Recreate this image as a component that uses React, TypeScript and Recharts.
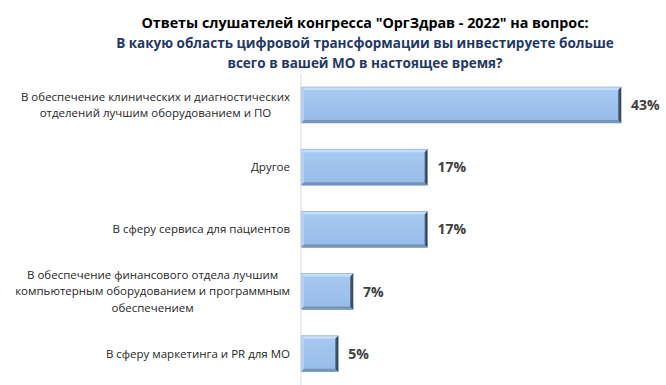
import { BarChart, Bar, XAxis, YAxis, LabelList } from "recharts";

const categories = [
    "В обеспечение клинических и диагностических\nотделений лучшим оборудованием и ПО",
    "Другое",
    "В сферу сервиса для пациентов",
    "В обеспечение финансового отдела лучшим\nкомпьютерным оборудованием и программным\nобеспечением",
    "В сферу маркетинга и PR для МО",
];
const shares = [43, 17, 17, 7, 5];

const titleLine = 'Ответы слушателей конгресса "ОргЗдрав - 2022" на вопрос:';
const questionLines = [
    "В какую область цифровой трансформации вы инвестируете больше",
    "всего в вашей МО в настоящее время?",
];

const data = categories.map((name, i) => ({ name, value: shares[i] }));

const FONT = "'Open Sans', 'DejaVu Sans', sans-serif";

function CategoryTick({ x, y, payload }: any) {
    const lines = String(payload.value).split("\n");
    const lh = 16.5;
    const h = lines.length * lh;
    return (
        <foreignObject x={0} y={y - h / 2} width={x - 3} height={h}>
            <div style={{ display: "flex", justifyContent: "flex-end", height: "100%" }}>
                <div
                    style={{
                        textAlign: "center",
                        fontFamily: FONT,
                        fontSize: 11.5,
                        lineHeight: `${lh}px`,
                        color: "#262626",
                        whiteSpace: "nowrap",
                    }}
                >
                    {lines.map((l, i) => (
                        <div key={i}>{l}</div>
                    ))}
                </div>
            </div>
        </foreignObject>
    );
}

function BevelBar({ x, y, width, height }: any) {
    if (!width || width <= 0) return null;
    const b = 3;
    return (
        <g>
            <rect x={x} y={y} width={width} height={height} fill="url(#barFill)" />
            {/* top bevel */}
            <polygon points={`${x},${y} ${x + width},${y} ${x + width - b},${y + b} ${x + b},${y + b}`} fill="#c6ddf6" />
            {/* left bevel */}
            <polygon points={`${x},${y} ${x + b},${y + b} ${x + b},${y + height - b} ${x},${y + height}`} fill="#b6d1f1" />
            {/* bottom bevel */}
            <polygon
                points={`${x},${y + height} ${x + b},${y + height - b} ${x + width - b},${y + height - b} ${x + width},${y + height}`}
                fill="#7393b8"
            />
            {/* right shadow edge */}
            <polygon
                points={`${x + width},${y} ${x + width - b},${y + b} ${x + width - b},${y + height - b} ${x + width},${y + height}`}
                fill="url(#edgeFill)"
            />
            <rect x={x} y={y} width={width} height={height} fill="none" stroke="#86a4c8" strokeWidth={0.6} />
        </g>
    );
}

export default function App() {
    return (
        <div style={{ position: "absolute", left: 0, top: 0, width: 666, height: 385, background: "#fff" }}>
            <div
                style={{
                    position: "absolute",
                    left: 0,
                    top: 13,
                    width: 730,
                    textAlign: "center",
                    fontFamily: FONT,
                    fontWeight: 700,
                    fontSize: 14.3,
                    lineHeight: "20px",
                    color: "#000",
                    whiteSpace: "nowrap",
                }}
            >
                {titleLine}
            </div>
            <div
                style={{
                    position: "absolute",
                    left: 0,
                    top: 33,
                    width: 730,
                    textAlign: "center",
                    fontFamily: FONT,
                    fontWeight: 700,
                    fontSize: 13.5,
                    lineHeight: "20px",
                    color: "#1f3864",
                    whiteSpace: "nowrap",
                }}
            >
                {questionLines.map((l, i) => (
                    <div key={i}>{l}</div>
                ))}
            </div>
            <BarChart
                width={666}
                height={385}
                data={data}
                layout="vertical"
                margin={{ top: 74, right: 30, bottom: 0, left: 0 }}
                barSize={36}
                style={{ position: "absolute", left: 0, top: 0 }}
            >
                <defs>
                    <linearGradient id="barFill" x1="0" y1="0" x2="0" y2="1">
                        <stop offset="0%" stopColor="#a8caf1" />
                        <stop offset="100%" stopColor="#96bbe8" />
                    </linearGradient>
                    <linearGradient id="edgeFill" x1="0" y1="0" x2="1" y2="0">
                        <stop offset="0%" stopColor="#5b7393" />
                        <stop offset="100%" stopColor="#1c2836" />
                    </linearGradient>
                </defs>
                <XAxis type="number" domain={[0, 45]} hide />
                <YAxis
                    type="category"
                    dataKey="name"
                    width={301}
                    tickLine={false}
                    axisLine={{ stroke: "#d9d9d9" }}
                    tick={<CategoryTick />}
                    interval={0}
                />
                <Bar dataKey="value" shape={<BevelBar />} isAnimationActive={false}>
                    <LabelList
                        dataKey="value"
                        position="right"
                        offset={10}
                        formatter={(v: any) => `${v}%`}
                        style={{ fontFamily: FONT, fontWeight: 700, fontSize: 14, fill: "#404040" }}
                    />
                </Bar>
            </BarChart>
        </div>
    );
}
